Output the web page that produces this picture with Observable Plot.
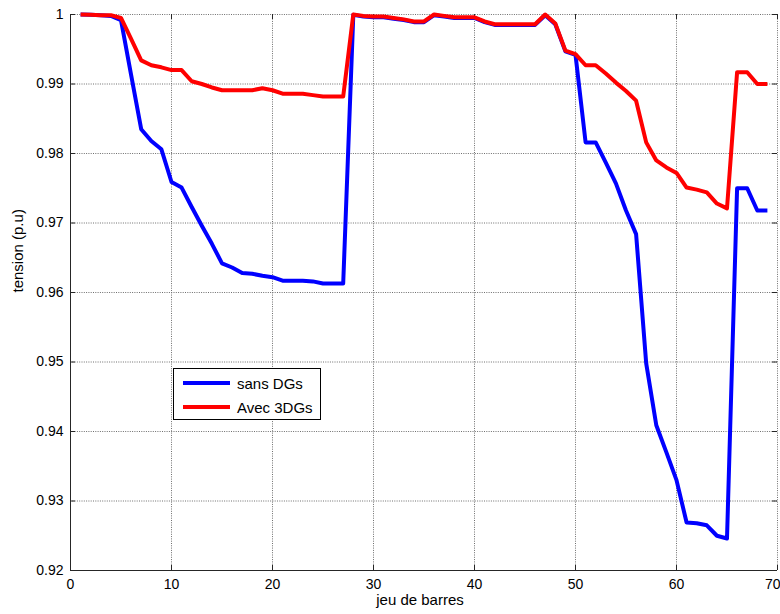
<!DOCTYPE html>
<html>
<head>
<meta charset="utf-8">
<script src="https://cdn.jsdelivr.net/npm/d3@7"></script>
<script src="https://cdn.jsdelivr.net/npm/@observablehq/plot@0.6"></script>
<style>
  html, body { margin: 0; padding: 0; background: #fff; }
  #wrap { position: relative; width: 780px; height: 614px; font-family: "Liberation Sans", Arial, sans-serif; }
  #legend { position: absolute; left: 173px; top: 368px; width: 148px; height: 52px; box-sizing: border-box;
            border: 1px solid #000; background: #fff; font-size: 15px; color: #000; }
  .item { position: absolute; left: 9px; height: 18px; display: flex; align-items: center; }
  .swatch { width: 47px; height: 4px; margin-right: 7px; }
</style>
</head>
<body>
<div id="wrap"></div>
<script>
// ---- data ----
const buses = [1,2,3,4,5,6,7,8,9,10,11,12,13,14,15,16,17,18,19,20,21,22,23,24,25,26,27,28,29,30,
  31,32,33,34,35,36,37,38,39,40,41,42,43,44,45,46,47,48,49,50,51,52,53,54,55,56,57,58,59,60,
  61,62,63,64,65,66,67,68,69];

const sansDGs = [1.0000,0.99995,0.9999,0.9998,0.9992,0.9913,0.9835,0.9818,0.9806,0.9759,
  0.9751,0.9723,0.9696,0.9670,0.9642,0.9636,0.9628,0.9627,0.9624,0.9622,
  0.9617,0.9617,0.9617,0.9616,0.9613,0.9613,0.9613,0.99995,0.9997,0.9996,
  0.9996,0.9994,0.9992,0.9989,0.9989,0.9999,0.9997,0.9995,0.9995,0.9995,
  0.9989,0.9985,0.9985,0.9985,0.9985,0.9985,0.9999,0.9986,0.9947,0.9942,
  0.9816,0.9816,0.9787,0.9757,0.9718,0.9684,0.9498,0.9409,0.9370,0.9330,
  0.9269,0.9268,0.9265,0.9250,0.9246,0.9750,0.9750,0.9718,0.9718];

const avec3DGs = [1.0000,0.99995,0.9999,0.9999,0.9995,0.9965,0.9934,0.9927,0.9924,0.9920,
  0.9920,0.9904,0.9900,0.9895,0.9891,0.9891,0.9891,0.9891,0.9894,0.9891,
  0.9886,0.9886,0.9886,0.9884,0.9882,0.9882,0.9882,1.0000,0.9998,0.9997,
  0.9997,0.9995,0.9993,0.9990,0.9990,1.0000,0.9998,0.9996,0.9996,0.9996,
  0.9990,0.9986,0.9986,0.9986,0.9986,0.9986,1.0000,0.9987,0.9948,0.9943,
  0.9927,0.9927,0.9915,0.9902,0.9890,0.9876,0.9816,0.9790,0.9780,0.9772,
  0.9751,0.9748,0.9744,0.9728,0.9721,0.9917,0.9917,0.9900,0.9900];

const seriesNames = ["sans DGs", "Avec 3DGs"];
const seriesColors = ["#0000ff", "#ff0000"];

const xDomain = [0, 70];
const yDomain = [0.92, 1];
const xTicks = [0, 10, 20, 30, 40, 50, 60, 70];
const xTickLabels = ["0", "10", "20", "30", "40", "50", "60", "70"];
const yTicks = [0.92, 0.93, 0.94, 0.95, 0.96, 0.97, 0.98, 0.99, 1];
const yTickLabels = ["0.92", "0.93", "0.94", "0.95", "0.96", "0.97", "0.98", "0.99", "1"];

const xLabel = "jeu de barres";
const yLabel = "tension (p.u)";

// ---- build table ----
const rows = [];
[sansDGs, avec3DGs].forEach((vals, s) => {
  buses.forEach((b, i) => rows.push({ bus: b, v: vals[i], serie: seriesNames[s] }));
});

const gridStyle = { stroke: "#6e6e6e", strokeOpacity: 1, strokeWidth: 1, strokeDasharray: "1,1.3" };
const axisColor = "#262626";
const lastX = xTicks[xTicks.length - 1];
const innerXTicks = xTicks.slice(0, -1);

const chart = Plot.plot({
  width: 780,
  height: 614,
  marginLeft: 70,
  marginRight: 3,
  marginTop: 14,
  marginBottom: 44,
  style: { fontFamily: "'Liberation Sans', Arial, sans-serif", fontSize: "14px", background: "#fff", color: "#000", overflow: "visible" },
  x: { domain: xDomain, label: null },
  y: { domain: yDomain, label: null },
  color: { domain: seriesNames, range: seriesColors },
  marks: [
    Plot.gridX(xTicks, gridStyle),
    Plot.gridY(yTicks, gridStyle),
    // inward ticks (bottom, top, left, right)
    Plot.tickX(xTicks, { x: d => d, stroke: axisColor, insetTop: 551 }),
    Plot.tickX(xTicks, { x: d => d, stroke: axisColor, insetBottom: 551 }),
    Plot.tickY(yTicks, { y: d => d, stroke: axisColor, insetRight: 702 }),
    Plot.tickY(yTicks, { y: d => d, stroke: axisColor, insetLeft: 702 }),
    // axis lines
    Plot.ruleX([xDomain[0]], { stroke: axisColor }),
    Plot.ruleY([yDomain[0]], { stroke: axisColor }),
    Plot.axisX(innerXTicks, { tickSize: 0, tickPadding: 9, fontSize: 14, tickFormat: d => xTickLabels[xTicks.indexOf(d)], label: null }),
    Plot.text([lastX], { x: d => d, frameAnchor: "bottom", textAnchor: "end", lineAnchor: "top", dx: 3, dy: 9, fontSize: 14, text: d => xTickLabels[xTicks.indexOf(d)] }),
    Plot.axisY(yTicks, { tickSize: 0, tickPadding: 7, fontSize: 14, tickFormat: d => yTickLabels[yTicks.indexOf(d)], label: null }),
    // data lines
    Plot.line(rows, { x: "bus", y: "v", z: "serie", stroke: "serie", strokeWidth: 4, strokeLinejoin: "round", strokeLinecap: "butt" }),
    // axis titles
    Plot.text([xLabel], { frameAnchor: "bottom", dx: -4, dy: 34, fontSize: 15 }),
    Plot.text([yLabel], { frameAnchor: "left", rotate: -90, dx: -52, fontSize: 15 })
  ]
});

const wrap = document.getElementById("wrap");
wrap.appendChild(chart);

// legend
const legend = document.createElement("div");
legend.id = "legend";
seriesNames.forEach((name, i) => {
  const item = document.createElement("div");
  item.className = "item";
  item.style.top = (5 + i * 24) + "px";
  const sw = document.createElement("span");
  sw.className = "swatch";
  sw.style.background = seriesColors[i];
  const tx = document.createElement("span");
  tx.textContent = name;
  item.appendChild(sw);
  item.appendChild(tx);
  legend.appendChild(item);
});
wrap.appendChild(legend);
</script>
</body>
</html>
